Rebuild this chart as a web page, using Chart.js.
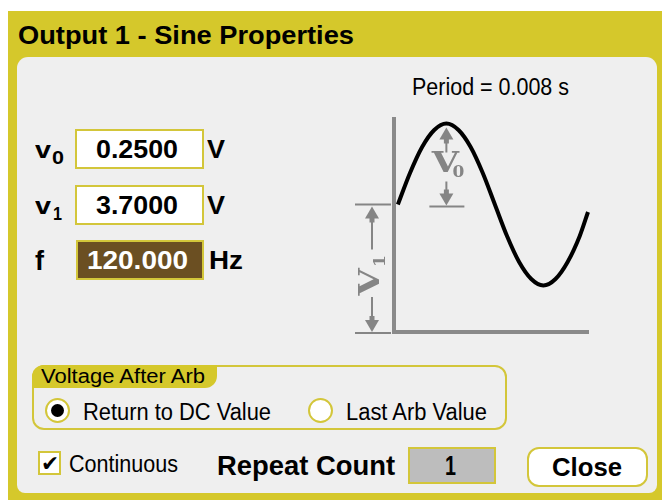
<!DOCTYPE html>
<html><head><meta charset="utf-8">
<script src="https://cdn.jsdelivr.net/npm/chart.js@4.4.1/dist/chart.umd.min.js"></script>
<style>
html,body{margin:0;padding:0;background:#fff;width:662px;height:500px;overflow:hidden}
body{position:relative;font-family:"Liberation Sans Narrow","Liberation Sans",Arial,sans-serif;color:#000}
.abs{position:absolute;box-sizing:border-box}
#frame{left:8px;top:11px;width:654px;height:489px;background:#d5c82b}
#panel{left:17px;top:57px;width:640px;height:436px;background:#efefef;border-radius:11px 11px 8px 8px}
.t{position:absolute;white-space:nowrap;line-height:1;transform-origin:0 0}
.box{border:2px solid #d3c63a;background:#fff}
#chartWrap{left:330px;top:100px;width:290px;height:245px}
</style></head>
<body>
<div id="frame" class="abs"></div>
<div id="panel" class="abs"></div>

<!-- input boxes -->
<div class="abs box" style="left:75px;top:129px;width:129px;height:40px"></div>
<div class="abs box" style="left:75px;top:185px;width:129px;height:40px"></div>
<div class="abs box" style="left:76px;top:240px;width:128px;height:40px;background:#6b4f22"></div>

<!-- group box -->
<div class="abs" style="left:32px;top:365px;width:475px;height:65px;border:2px solid #d3c63a;border-radius:12px"></div>
<div class="abs" style="left:32px;top:365px;width:185px;height:23px;background:#d5c82b;border-radius:12px 0 12px 0"></div>
<div class="abs" style="left:45px;top:398px;width:25px;height:25px;border:2px solid #d3c63a;border-radius:50%;background:#fff"></div>
<div class="abs" style="left:51px;top:404px;width:13px;height:13px;border-radius:50%;background:#000"></div>
<div class="abs" style="left:308px;top:398px;width:25px;height:25px;border:2px solid #d3c63a;border-radius:50%;background:#fff"></div>

<!-- bottom row -->
<div class="abs box" style="left:38px;top:451px;width:23px;height:24px"></div>
<div class="abs box" style="left:408px;top:447px;width:88px;height:37px;background:#bdbdbd"></div>
<div class="abs box" style="left:527px;top:447px;width:121px;height:40px;border-radius:12px"></div>

<div id="chartWrap" class="abs"><canvas id="c" width="290" height="245"></canvas></div>

<div id="texts"></div>

<script>
// ---- chart data (schematic sine) ----
const timeMs    = [0, 0.5, 1, 1.5, 2, 2.5, 3, 3.5, 4, 4.5, 5, 5.5, 6, 6.5, 7, 7.5, 7.84];
const waveLevel = [12.75, 15.9, 18.5, 20.2, 20.85, 20.2, 18.5, 15.9, 12.75, 9.6, 7.0, 5.3, 4.65, 5.3, 7.0, 9.6, 12.0];
const baseLevel   = 0;      // bottom of V1 dimension
const offsetLevel = 12.75;  // DC offset level (V1)
const peakLevel   = 20.85;  // peak level (V0 above offset)
const peakTimeMs  = 2;
const xLimits = [-0.16, 7.84];
const yLimits = [0, 21.3];

// ---- dialog values ----
const fieldValues = ['0.2500', '3.7000', '120.000'];
const periodText = 'Period = 0.008 s';
const repeatCount = '1';

// ---- texts ----
const T = [
  // text, left, baseline, size, bold, width, color
  ['Output 1 - Sine Properties', 18, 44, 26, true, 336],
  [periodText, 412, 95, 23, false, 157],
  ['v', 35, 158, 23, true, 16],
  ['0', 52, 164, 19, true, 12],
  ['v', 35, 214, 23, true, 16],
  ['1', 53, 220, 19, true, 9],
  ['f', 35, 271, 27, true, 9],
  [fieldValues[0], 96, 158, 25, true, 82],
  [fieldValues[1], 96, 214, 25, true, 82],
  [fieldValues[2], 87, 269, 25, true, 101, '#fff'],
  ['V', 207, 158, 25, true, 18],
  ['V', 207, 214, 25, true, 18],
  ['Hz', 209, 269, 25, true, 34],
  ['Voltage After Arb', 41, 383, 20, false, 164],
  ['Return to DC Value', 83, 420, 23, false, 188],
  ['Last Arb Value', 346, 420, 23, false, 141],
  ['\u2714', 41, 472, 22, false, 18],
  ['Continuous', 69, 472, 23, false, 109],
  ['Repeat Count', 217, 476, 27, true, 178],
  [repeatCount, 445, 476, 27, true, 11],
  ['Close', 552, 476, 26, true, 70]
];
const holder = document.getElementById('texts');
T.forEach(([s, x, b, size, bold, w, col]) => {
  const d = document.createElement('div');
  d.className = 't';
  d.textContent = s;
  d.style.left = x + 'px';
  d.style.top = (b - 0.8465 * size) + 'px';
  d.style.fontSize = size + 'px';
  d.style.fontWeight = bold ? 'bold' : 'normal';
  if (s === '\u2714') d.style.fontFamily = '"DejaVu Sans",sans-serif';
  if (col) d.style.color = col;
  holder.appendChild(d);
  const aw = d.getBoundingClientRect().width;
  if (aw > 0) d.style.transform = 'scaleX(' + (w / aw) + ')';
});

// ---- dimension annotations drawn through the chart scales ----
const dimPlugin = {
  id: 'dims',
  afterDraw(chart) {
    const {ctx, scales: {x, y}, chartArea} = chart;
    const gray = '#858585';
    const yb = y.getPixelForValue(baseLevel);
    const yo = y.getPixelForValue(offsetLevel);
    const yp = y.getPixelForValue(peakLevel);
    const xp = x.getPixelForValue(peakTimeMs);
    const xl = chartArea.left;
    ctx.save();
    ctx.fillStyle = gray; ctx.strokeStyle = gray; ctx.lineWidth = 2;
    const line = (x1, y1, x2, y2) => { ctx.beginPath(); ctx.moveTo(x1, y1); ctx.lineTo(x2, y2); ctx.stroke(); };
    const arrow = (xc, tip, dir) => { // dir -1 = points up, +1 = points down
      ctx.beginPath();
      ctx.moveTo(xc, tip);
      ctx.lineTo(xc - 7, tip - dir * 12);
      ctx.lineTo(xc + 7, tip - dir * 12);
      ctx.closePath(); ctx.fill();
      ctx.fillRect(xc - 2.5, dir < 0 ? tip + 11 : tip - 16, 5, 5);
    };
    const vLabel = (cx, cy, sub, sx, sy, rot) => {
      ctx.save();
      ctx.translate(cx, cy);
      if (rot) ctx.rotate(-Math.PI / 2);
      ctx.save();
      ctx.scale(1.3, 1);
      ctx.font = 'bold 27px "DejaVu Serif", serif';
      ctx.textAlign = 'center'; ctx.textBaseline = 'middle';
      ctx.fillText('V', 0, 1);
      ctx.restore();
      ctx.font = 'bold 17px "DejaVu Serif", serif';
      ctx.textAlign = 'center'; ctx.textBaseline = 'middle';
      ctx.fillText(sub, sx, sy);
      ctx.restore();
    };
    // V1 dimension (left of axis)
    const xv = xl - 22;
    line(xl - 39, yo, xl - 3, yo);
    line(xl - 39, yb + 1, xl - 3, yb + 1);
    arrow(xv, yo + 2, -1);
    line(xv, yo + 14, xv, yo + 45);
    vLabel(xv - 1, yb - 50, '1', 21, 10, true);
    line(xv, yb - 35, xv, yb - 14);
    arrow(xv, yb, 1);
    // V0 dimension (under the peak)
    line(xp - 17, yo + 2, xp + 18, yo + 2);
    arrow(xp, yp + 4, -1);
    line(xp, yp + 16, xp, yp + 29);
    vLabel(xp - 1, yp + 40, '0', 13, 9, false);
    line(xp, yp + 58, xp, yo - 12);
    arrow(xp, yo + 1, 1);
    ctx.restore();
  }
};

const axisOpts = (lim) => ({
  type: 'linear', min: lim[0], max: lim[1],
  grid: {display: false, drawTicks: false, tickLength: 0},
  ticks: {display: false},
  border: {display: true, color: '#8a8a8a', width: 4}
});

new Chart(document.getElementById('c'), {
  type: 'line',
  data: {
    datasets: [{
      data: timeMs.map((t, i) => ({x: t, y: waveLevel[i]})),
      borderColor: '#000', borderWidth: 4, pointRadius: 0,
      cubicInterpolationMode: 'monotone', fill: false, clip: false
    }]
  },
  options: {
    responsive: false, animation: false, events: [],
    layout: {padding: {left: 64, top: 19, right: 32, bottom: 13}},
    plugins: {legend: {display: false}, tooltip: {enabled: false}},
    scales: {x: axisOpts(xLimits), y: axisOpts(yLimits)}
  },
  plugins: [dimPlugin]
});
</script>
</body></html>
